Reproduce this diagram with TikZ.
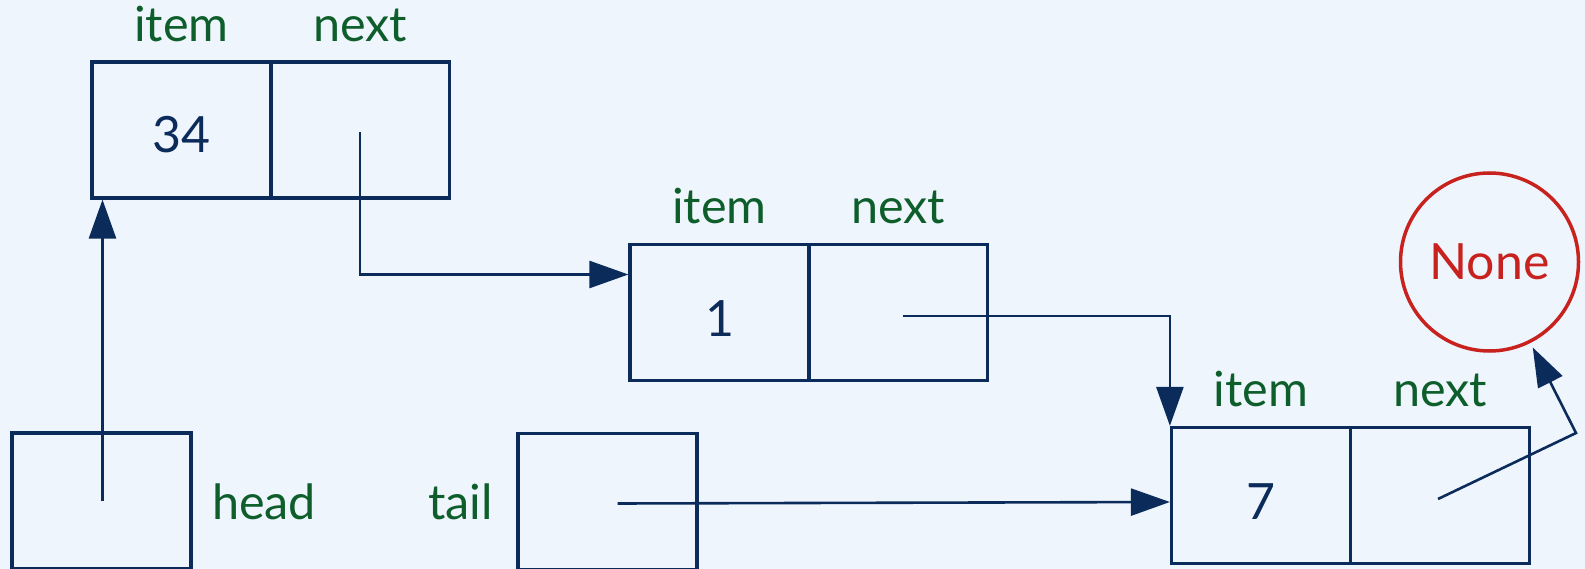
\documentclass[tikz,border=0pt]{standalone}
\usepackage{fontspec}
\setmainfont{Lato}
\usetikzlibrary{arrows.meta,calc}
\definecolor{navy}{HTML}{0B2B5A}
\definecolor{lblgreen}{HTML}{0E5E2B}
\definecolor{nonered}{HTML}{C8221E}
\definecolor{bgcol}{HTML}{EFF5FD}
\begin{document}
\begin{tikzpicture}[x=1pt,y=-1pt,
  cell/.style={draw=navy,line width=3.2pt,minimum width=179pt,minimum height=136pt,inner sep=0pt},
  val/.style={text=navy,font=\fontsize{50}{60}\selectfont,inner sep=0pt,anchor=base},
  lbl/.style={text=lblgreen,font=\fontsize{48.5}{58}\selectfont,inner sep=0pt,anchor=base},
  ptr/.style={draw=navy,line width=2.6pt,-{Triangle[length=39pt,width=27pt]}},
]
\useasboundingbox[fill=bgcol] (0,0) rectangle (1585,569);
% node 1
\node[cell] (n1item) at (181.5,130) {};
\node[cell] (n1next) at (360,130) {};
% node 2
\node[cell] (n2item) at (719.5,312.5) {};
\node[cell] (n2next) at (898,312.5) {};
% node 3
\node[cell] (n3item) at (1261,495.5) {};
\node[cell] (n3next) at (1440,495.5) {};
% values
\node[val] (v1) at ([yshift=-23pt]n1item.center) {34};
\node[val] (v2) at ([yshift=-24pt]n2item.center) {1};
\node[val] (v3) at ([yshift=-24pt]n3item.center) {7};
% labels
\foreach \n in {n1,n2,n3}{
  \node[lbl] at ([yshift=19pt]\n item.north) {item};
  \node[lbl] at ([yshift=19pt]\n next.north) {next};
}
% head and tail
\node[cell] (head) at (101.5,501) {};
\node[cell] (tail) at (607.5,501.5) {};
\node[lbl,anchor=base west] (headlbl) at (212,519) {head};
\node[lbl,anchor=base east] (taillbl) at (493,519) {tail};
% None
\node[circle,draw=nonered,line width=3.5pt,minimum size=178pt,inner sep=0pt,text=nonered,
  font=\fontsize{50}{60}\selectfont] (none) at (1489.5,262) {None};
% connectors
\coordinate (hs) at ([xshift=1pt]head.center);
\draw[ptr] (hs) -- (hs |- n1item.south);
\coordinate (p1) at ([yshift=-2pt]n1next.center);
\draw[ptr] (p1) |- ([yshift=38pt]n2item.west);
\coordinate (p2) at ([xshift=5pt,yshift=-3.5pt]n2next.center);
\draw[ptr] (p2) -| (n3item.north west);
\coordinate (ts) at ([xshift=10pt,yshift=-2pt]tail.center);
\draw[ptr] (ts) -- ([yshift=-6.5pt]n3item.west);
\coordinate (p3) at ([xshift=-2pt,yshift=-3.5pt]n3next.center);
\coordinate (bend) at (1576,433);
\draw[ptr,shorten >=5pt] (p3) -- (bend) -- (none);
\end{tikzpicture}
\end{document}
